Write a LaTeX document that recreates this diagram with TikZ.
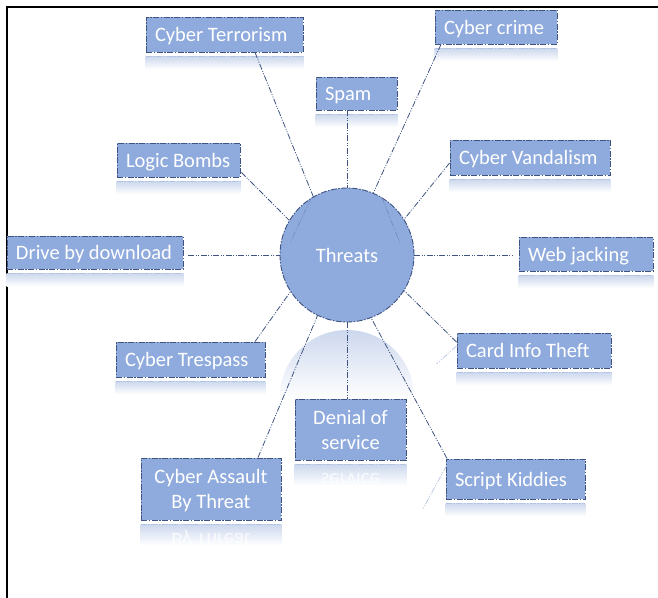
\documentclass[tikz,border=0pt]{standalone}
\usepackage{fontspec}
\newfontfamily\calib{Carlito}
\usetikzlibrary{calc}

\definecolor{boxfill}{HTML}{8FAADC}
\definecolor{edgecol}{HTML}{3E5380}
\definecolor{linkcol}{HTML}{3E5380}
\definecolor{glowtop}{HTML}{CDD8EE}
\definecolor{glowedge}{HTML}{B3C3E2}

\tikzset{
  threatbox/.style={rectangle, draw=edgecol, fill=boxfill, line width=0.9pt,
    dash pattern=on 6pt off 1.5pt on 1.5pt off 1.5pt, text=white,
    font=\calib\fontsize{20.5}{25}\selectfont, inner xsep=9pt, inner ysep=0pt,
    text height=16pt, text depth=2pt},
  twoline/.style={text height=16pt, text depth=27pt},
  hub/.style={circle, draw=edgecol, fill=boxfill, line width=0.9pt,
    dash pattern=on 6pt off 1.5pt on 1.5pt off 1.5pt, minimum size=134pt,
    inner sep=0pt, text=white, font=\calib\fontsize{20.5}{25}\selectfont,
    text height=16pt, text depth=2pt},
  link/.style={draw=linkcol, line width=0.8pt,
    dash pattern=on 6pt off 1.5pt on 1pt off 1.5pt on 1pt off 1.5pt},
  ghostlink/.style={draw=glowedge, line width=0.7pt,
    dash pattern=on 6pt off 1.5pt on 1pt off 1.5pt on 1pt off 1.5pt},
  innerlink/.style={draw=edgecol!35!boxfill, line width=0.7pt,
    dash pattern=on 6pt off 1.5pt on 1pt off 1.5pt on 1pt off 1.5pt},
  mirrortext/.style={text=white, font=\calib\fontsize{20.5}{25}\selectfont,
    yscale=-1, transform shape, inner sep=0pt, anchor=base},
}

% box with its faded reflection underneath
% #1 name, #2 x, #3 y, #4 width, #5 height, #6 reflection depth, #7 extra options, #8 text
\newcommand\threatnode[8]{%
  \node[threatbox, minimum width=#4pt, minimum height=#5pt, #7] (#1) at (#2,#3) {#8};
  \shade[top color=glowtop, bottom color=white]
    ($(#1.south west)+(0pt,-4pt)$) rectangle ($(#1.south east)+(0pt,-#6pt)$);
  \draw[glowedge, line width=0.7pt, dash pattern=on 6pt off 1.5pt on 1.5pt off 1.5pt]
    ($(#1.south west)+(0pt,-4pt)$) -- ($(#1.south east)+(0pt,-4pt)$);
}
% single line label, set flush left inside its box
\newcommand\flushtext[2]{\makebox[#1pt][l]{#2}}
% two centred lines, 25pt apart
\newcommand\pairtext[2]{\begin{tabular}[t]{@{}c@{}}#1\\#2\end{tabular}}

\begin{document}
\begin{tikzpicture}[x=1pt, y=-1pt]
  \useasboundingbox (0,0) rectangle (658,597);

  % page frame
  \draw[line width=2.2pt, line join=miter] (7,600) -- (7,6.7) -- (660,6.7);

  % faded reflection of the hub
  \begin{scope}
    \clip (347,397) circle (67pt);
    \shade[top color=glowtop, bottom color=white] (270,330) rectangle (425,400);
  \end{scope}

  % hub
  \node[hub] (th) at (347,255) {Threats};

  % surrounding threat types
  \threatnode{ct}{224.5}{34.5}{157}{35}{17}{}{\flushtext{139}{Cyber Terrorism}}
  \threatnode{spam}{356.5}{93.5}{81}{33}{17}{}{\flushtext{63}{Spam}}
  \threatnode{cc}{496}{27}{122}{34}{17}{}{\flushtext{104}{Cyber crime}}
  \threatnode{lb}{178.5}{160}{123}{34}{17}{}{\flushtext{105}{Logic Bombs}}
  \threatnode{cv}{530}{157.5}{160}{35}{17}{}{\flushtext{142}{Cyber Vandalism}}
  \threatnode{dd}{95}{252.5}{176}{33}{17}{}{\flushtext{158}{Drive by download}}
  \threatnode{wj}{586}{254}{134}{34}{17}{}{\flushtext{116}{Web jacking}}
  \threatnode{ctr}{190.5}{359.5}{149}{35}{17}{}{\flushtext{131}{Cyber Trespass}}
  \threatnode{cit}{534}{350.5}{154}{35}{17}{}{\flushtext{136}{Card Info Theft}}
  \threatnode{dos}{350.5}{429.5}{111}{61}{25}{twoline}{\pairtext{Denial of}{service}}
  \threatnode{cab}{211}{489}{140}{62}{25}{twoline}{\pairtext{Cyber Assault}{By Threat}}
  \threatnode{sk}{515.5}{479}{139}{40}{17}{}{\flushtext{121}{Script Kiddies}}

  % mirrored lower lines in the reflections of the two-line boxes
  \begin{scope}
    \clip ($(dos.south west)+(0pt,-6pt)$) rectangle ($(dos.south east)+(0pt,-25pt)$);
    \node[mirrortext, opacity=0.75] at ($(dos.south)+(0pt,-13pt)$) {service};
  \end{scope}
  \begin{scope}
    \clip ($(cab.south west)+(0pt,-6pt)$) rectangle ($(cab.south east)+(0pt,-25pt)$);
    \node[mirrortext, opacity=0.75] at ($(cab.south)+(0pt,-13pt)$) {By Threat};
  \end{scope}

  % connectors from the hub
  \draw[link] ($(ct.south)+(30.5pt,0pt)$) -- (th.120);
  \draw[link] (th.north |- spam.south) -- (th.north);
  \draw[link] ($(cc.south)+(-55pt,0pt)$) -- (th.67);
  \draw[link] ($(lb.south east)+(1pt,5pt)$) -- (th.149);
  \draw[link] ($(cv.west)+(0pt,-5.5pt)$) -- (th.32);
  \draw[link] ($(th.west -| dd.east)+(5pt,0pt)$) -- (th.west);
  \draw[link] (th.east) -- ($(th.east -| wj.west)+(-5pt,0pt)$);
  \draw[link] ($(ctr.north)+(64.5pt,0pt)$) -- (th.213);
  \draw[link] ($(cit.west)+(0pt,8.5pt)$) -- (th.-32);
  \draw[link] (th.south) -- (th.south |- dos.north);
  \draw[link] ($(cab.north)+(47pt,0pt)$) -- (th.244);
  \draw[link] ($(sk.north)+(-68.5pt,0pt)$) -- (th.-69);

  % faint echoes of the connectors
  \draw[innerlink] (th.122) -- ($(th.center)+(-57pt,12pt)$);
  \draw[innerlink] (th.59) -- ($(th.center)+(53pt,12pt)$);
  \draw[ghostlink] ($(cit.west)+(0pt,4.5pt)$) -- ($(cit.west)+(-20pt,-13.5pt)$);
  \draw[ghostlink] ($(sk.north west)+(1pt,-7pt)$) -- ($(sk.north west)+(-23pt,-51pt)$);
\end{tikzpicture}
\end{document}
